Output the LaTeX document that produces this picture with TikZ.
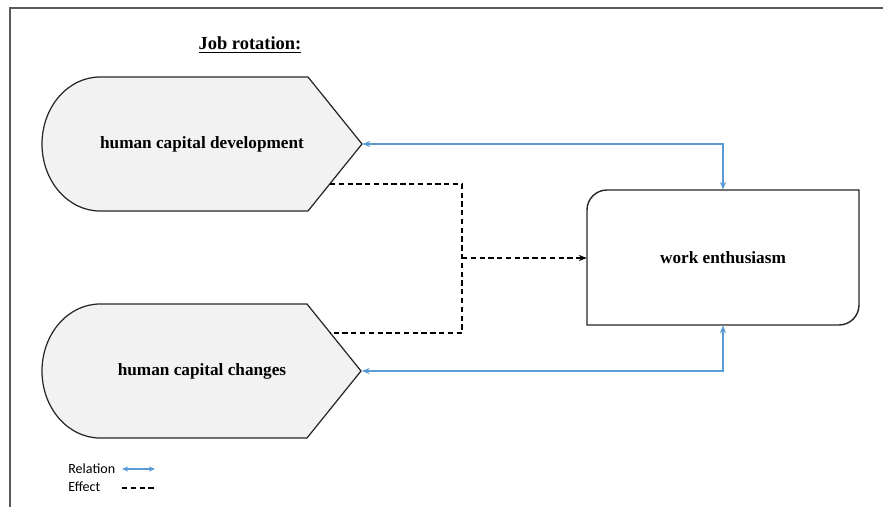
\documentclass[tikz,border=0pt]{standalone}
\usepackage{fontspec}
\setmainfont{Liberation Serif}
\newfontfamily\legendfont{Carlito}
\usepackage{xcolor}
\usepackage{tikz}
\usetikzlibrary{calc, arrows.meta, positioning}

\definecolor{relblue}{RGB}{91,155,213}

\begin{document}
\begin{tikzpicture}[
            x=0.02cm, y=0.02cm,
            frameline/.style={line width=0.9pt, draw=black!65},
            tag/.style={draw=black!85, fill=black!5, line width=0.7pt},
            label/.style={font=\fontsize{9.8}{12}\selectfont\bfseries, inner sep=0pt},
            relation/.style={<->, >={Stealth[length=4.5pt, width=3.5pt]}, draw=relblue, line width=0.8pt},
            effect/.style={black, line width=0.7pt, dash pattern=on 3pt off 2pt},
            legend/.style={font=\legendfont\fontsize{8}{9}\selectfont, inner sep=0pt, anchor=west}
        ]
        \useasboundingbox (0,0) rectangle (883,-507);

        % Frame
        \draw[frameline] (10,-507) -- (10,-8) -- (883,-8);

        % Title
        \node[font=\fontsize{10.5}{12}\selectfont\bfseries] (title) at (250,-45) {\underline{Job rotation:}};

        % Shapes
        \filldraw[tag] (362,-144) -- (308,-77) -- (100,-77)
            arc[start angle=90, end angle=270, x radius=58, y radius=67]
            -- (308,-211) -- cycle;
        \filldraw[tag] (361,-371) -- (307,-304) -- (100,-304)
            arc[start angle=90, end angle=270, x radius=58, y radius=67]
            -- (307,-438) -- cycle;
        \draw[line width=0.8pt, draw=black!85] (587,-325) -- (587,-210)
            arc[start angle=180, end angle=90, radius=20]
            -- (859,-190) -- (859,-305)
            arc[start angle=0, end angle=-90, radius=20] -- cycle;

        % Nodes (manual layout to match figure)
        \node[label, minimum width=6.4cm, minimum height=2.68cm] (hcd) at (202,-144) {human capital development};
        \node[label, minimum width=6.38cm, minimum height=2.68cm] (hcc) at (202,-371) {human capital changes};
        \node[label, minimum width=5.44cm, minimum height=2.7cm] (we) at (723,-257.5) {work enthusiasm};

        \coordinate (d1) at (330,-184);
        \coordinate (d2) at (330,-333);
        \coordinate (jn) at (462,-258);

        % Edges
        \draw[relation] (we.north) |- (hcd.east);
        \draw[relation] (we.south) |- (hcc.east);

        \draw[effect] (d1) -| (d2 -| jn) -- (d2);
        \draw[effect, -{Stealth[length=4.5pt, width=3.5pt]}] (jn) -- (jn -| we.west);

        % Legend
        \node[legend] (rel) at (68,-469) {Relation};
        \node[legend] (eff) at (68,-487) {Effect};
        \coordinate (r1) at (122,-469);
        \coordinate (r2) at (155,-469);
        \coordinate (e1) at (122,-488);
        \coordinate (e2) at (155,-488);
        \draw[relation, line width=0.6pt, >={Stealth[length=3.5pt, width=3pt]}] (r1) -- (r2);
        \draw[effect] (e1) -- (e2);

    \end{tikzpicture}
\end{document}
